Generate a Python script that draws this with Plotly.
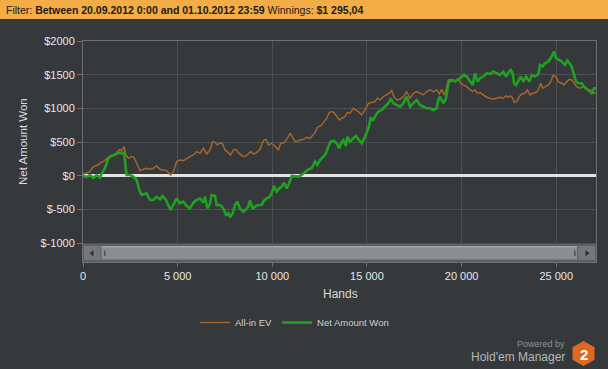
import plotly.graph_objects as go

# ---------------- data ----------------
ev_hands = [0, 190, 370, 460, 630, 810, 930, 1070, 1250, 1430, 1600, 1780, 1920, 2040, 2170, 2270, 2400,
            2570, 2690, 2835, 3010, 3190, 3360, 3540, 3720, 3890, 4070, 4240, 4420, 4630, 4770, 4950,
            5120, 5300, 5480, 5650, 5830, 6000, 6180, 6360, 6530, 6710, 6850, 6970, 7100, 7240, 7380,
            7500, 7680, 7800, 7940, 8080, 8210, 8330, 8470, 8610, 8730, 8860, 9000, 9175, 9350, 9530,
            9670, 9790, 9970, 10140, 10320, 10440, 10620, 10800, 10940, 11080, 11200, 11320, 11460,
            11640, 11820, 11990, 12130, 12260, 12380, 12560, 12700, 12840, 13010, 13140, 13260, 13400,
            13540, 13670, 13840, 13965, 14106, 14282, 14423, 14546, 14722, 14898, 15074, 15250, 15426,
            15550, 15690, 15867, 16043, 16184, 16307, 16430, 16571, 16747, 16923, 17099, 17275, 17451,
            17627, 17803, 17980, 18156, 18332, 18508, 18684, 18825, 18948, 19071, 19177, 19300, 19477,
            19653, 19829, 19952, 20093, 20269, 20445, 20586, 20709, 20833, 20974, 21150, 21326, 21502,
            21678, 21854, 22030, 22206, 22347, 22470, 22594, 22699, 22787, 22911, 23052, 23175, 23351,
            23474, 23615, 23756, 23932, 24055, 24178, 24284, 24407, 24583, 24707, 24847, 24989, 25112,
            25288, 25411, 25552, 25693, 25816, 25940, 26080, 26256, 26432, 26609, 26785, 26961, 27101]
ev_values = [20, 35, 60, 110, 144, 159, 194, 209, 258, 293, 308, 342, 382, 372, 431, 308, 258,
             283, 273, 184, 75, 95, 110, 95, 110, 144, 95, 85, 75, 10, 60, 209,
             233, 223, 258, 283, 308, 357, 332, 407, 322, 382, 506, 495, 456, 491, 471,
             382, 342, 308, 382, 392, 342, 308, 283, 293, 322, 357, 322, 342, 392, 521,
             540, 456, 481, 441, 382, 481, 491, 555, 630, 555, 506, 506, 530,
             540, 570, 555, 605, 639, 719, 739, 788, 838, 937, 951, 937, 877,
             828, 852, 877, 937, 927, 1001, 976, 951, 902, 976, 1075, 1085, 1100,
             1150, 1125, 1174, 1199, 1224, 1264, 1174, 1125, 1135, 1174, 1249, 1150, 1224,
             1249, 1224, 1199, 1249, 1273, 1249, 1273, 1214, 1283, 1199, 1273, 1422, 1412,
             1412, 1432, 1373, 1348, 1323, 1278, 1249, 1273, 1224, 1234, 1199, 1165, 1150,
             1135, 1150, 1165, 1150, 1184, 1165, 1184, 1150, 1085, 1100, 1174, 1214, 1224,
             1273, 1199, 1224, 1234, 1273, 1373, 1298, 1323, 1348, 1397, 1496, 1462, 1397,
             1373, 1348, 1397, 1432, 1422, 1373, 1323, 1298, 1323, 1283, 1273, 1224, 1234]

won_hands = [0, 190, 370, 550, 720, 900, 990, 1160, 1340, 1515, 1690, 1870, 2040, 2170, 2300, 2480,
             2660, 2835, 2975, 3100, 3360, 3540, 3720, 3890, 4070, 4210, 4380, 4510, 4630, 4770,
             4950, 5120, 5300, 5480, 5650, 5830, 6000, 6180, 6360, 6445, 6570, 6710, 6800, 6970,
             7060, 7240, 7410, 7555, 7680, 7770, 7910, 8030, 8150, 8290, 8470, 8610, 8730, 8820,
             8960, 9090, 9260, 9440, 9560, 9700, 9840, 9970, 10090, 10230, 10370, 10500, 10620,
             10760, 10900, 11020, 11200, 11380, 11550, 11730, 11900, 12080, 12260, 12380, 12520,
             12700, 12840, 12960, 13085, 13260, 13400, 13540, 13670, 13750, 13890, 13965, 14106,
             14282, 14423, 14546, 14722, 14898, 15074, 15197, 15338, 15479, 15602, 15779, 15955,
             16131, 16254, 16395, 16571, 16747, 16923, 17099, 17275, 17451, 17627, 17803, 17980,
             18156, 18332, 18508, 18684, 18772, 18860, 19036, 19177, 19300, 19477, 19653, 19829,
             20005, 20128, 20269, 20445, 20586, 20709, 20833, 20974, 21150, 21326, 21502, 21678,
             21854, 22030, 22206, 22347, 22470, 22594, 22699, 22770, 22875, 22999, 23122, 23263,
             23404, 23580, 23703, 23879, 24055, 24143, 24284, 24407, 24583, 24760, 24883, 24989,
             25112, 25288, 25464, 25587, 25693, 25816, 25940, 26045, 26168, 26344, 26468, 26609,
             26749, 26872, 26996, 27101]
won_values = [0, -20, 10, -35, 10, -30, 35, 110, 258, 293, 308, 342, 332, 342, 10, 10,
              -14, -64, -213, -287, -262, -361, -361, -312, -351, -302, -361, -435, -510, -435,
              -336, -410, -386, -450, -485, -401, -361, -336, -401, -312, -485, -410, -287, -300,
              -435, -435, -485, -584, -559, -619, -559, -435, -386, -485, -535, -500, -460, -371,
              -485, -460, -435, -435, -371, -336, -321, -262, -153, -237, -188, -163, -104,
              -188, -104, -5, -14, -14, 10, 60, 94, 110, 209, 159, 233,
              283, 332, 431, 506, 516, 481, 407, 506, 530, 441, 580, 506,
              555, 590, 540, 481, 580, 704, 852, 828, 902, 951, 976, 1026,
              1075, 1150, 1075, 1051, 1026, 1075, 1174, 1026, 1075, 1125, 1051, 1026,
              1001, 1001, 976, 1001, 1125, 1174, 1075, 1150, 1373, 1422, 1397, 1432,
              1472, 1496, 1472, 1397, 1348, 1521, 1397, 1447, 1472, 1521, 1511, 1546,
              1521, 1496, 1546, 1472, 1531, 1571, 1521, 1373, 1348, 1422, 1472, 1397,
              1472, 1397, 1496, 1472, 1511, 1645, 1620, 1670, 1695, 1769, 1843, 1744,
              1719, 1695, 1645, 1710, 1670, 1620, 1496, 1397, 1373, 1373, 1323, 1283,
              1249, 1224, 1298, 1295]

y_tickvals = [-1000, -500, 0, 500, 1000, 1500, 2000]
y_ticktext = ["$-1000", "$-500", "$0", "$500", "$1000", "$1500", "$2000"]
x_tickvals = [0, 5000, 10000, 15000, 20000, 25000]
x_ticktext = ["0", "5 000", "10 000", "15 000", "20 000", "25 000"]

# ---------------- layout geometry ----------------
W, H = 608, 369
L, R, T, B = 83, 596, 41, 262


def px(x):
    return (x - L) / (R - L)


def py(y):
    return (B - y) / (B - T)


BG = "#36393c"
FONT = "Liberation Sans, Arial, sans-serif"

fig = go.Figure()
fig.add_trace(go.Scatter(x=ev_hands, y=ev_values, mode="lines", name="All-in EV",
                         line=dict(color="#a5652b", width=1.5)))
fig.add_trace(go.Scatter(x=won_hands, y=won_values, mode="lines", name="Net Amount Won",
                         line=dict(color="#22a022", width=2.6)))

shapes = []
# header bar
shapes.append(dict(type="rect", xref="paper", yref="paper", x0=px(0), x1=px(W), y0=py(19), y1=py(0),
                   fillcolor="#f3ad47", line=dict(width=0), layer="above"))
# scrollbar track
shapes.append(dict(type="rect", xref="paper", yref="paper", x0=px(83), x1=px(596), y0=py(262), y1=py(244),
                   fillcolor="#5c6064", line=dict(width=0), layer="above"))
# left / right buttons
for x0, x1 in [(84, 100.5), (578, 595)]:
    shapes.append(dict(type="rect", xref="paper", yref="paper", x0=px(x0), x1=px(x1), y0=py(260), y1=py(246),
                       fillcolor="#74787b", line=dict(width=0), layer="above"))
# thumb
shapes.append(dict(type="rect", xref="paper", yref="paper", x0=px(101.5), x1=px(577), y0=py(259.5), y1=py(246),
                   fillcolor="#8b8f92", line=dict(width=0), layer="above"))
shapes.append(dict(type="line", xref="paper", yref="paper", x0=px(101.5), x1=px(577), y0=py(246.8), y1=py(246.8),
                   line=dict(color="#a3a6a8", width=1.5), layer="above"))
# grips
for x0 in [104, 574]:
    shapes.append(dict(type="rect", xref="paper", yref="paper", x0=px(x0), x1=px(x0 + 1.6), y0=py(256), y1=py(250.5),
                       fillcolor="#55585b", line=dict(width=0), layer="above"))


def tri(points):
    p = "M " + " L ".join(f"{px(a)},{py(b)}" for a, b in points) + " Z"
    return p


shapes.append(dict(type="path", xref="paper", yref="paper", path=tri([(89.5, 253.3), (93.5, 250.3), (93.5, 256.3)]),
                   fillcolor="#2b2d2f", line=dict(width=0), layer="above"))
shapes.append(dict(type="path", xref="paper", yref="paper", path=tri([(589.5, 253.3), (585.5, 250.3), (585.5, 256.3)]),
                   fillcolor="#2b2d2f", line=dict(width=0), layer="above"))
# logo hexagon
cx, cy = 583.5, 353.5
hexpts = [(cx, cy - 12.5), (cx + 11, cy - 6.3), (cx + 11, cy + 6.3), (cx, cy + 12.5), (cx - 11, cy + 6.3), (cx - 11, cy - 6.3)]
shapes.append(dict(type="path", xref="paper", yref="paper", path=tri(hexpts),
                   fillcolor="#de6a22", line=dict(width=0), layer="above"))

annotations = [
    dict(xref="paper", yref="paper", x=px(4), y=py(9.5), xanchor="left", yanchor="middle", showarrow=False,
         text="Filter: <b>Between 20.09.2012 0:00 and 01.10.2012 23:59</b> Winnings: <b>$1 295,04</b>",
         font=dict(family=FONT, size=10.5, color="#1a1a1a")),
    dict(xref="paper", yref="paper", x=px(23), y=py(142), xanchor="center", yanchor="middle", showarrow=False,
         text="Net Amount Won", textangle=-90, font=dict(family=FONT, size=11.5, color="#d8d8d8")),
    dict(xref="paper", yref="paper", x=px(340), y=py(294), xanchor="center", yanchor="middle", showarrow=False,
         text="Hands", font=dict(family=FONT, size=12, color="#d8d8d8")),
    dict(xref="paper", yref="paper", x=px(567), y=py(344), xanchor="right", yanchor="middle", showarrow=False,
         text="Powered by", font=dict(family=FONT, size=9, color="#8e9194")),
    dict(xref="paper", yref="paper", x=px(567), y=py(357), xanchor="right", yanchor="middle", showarrow=False,
         text="Hold'em Manager", font=dict(family=FONT, size=12, color="#b4b6b8")),
    dict(xref="paper", yref="paper", x=px(583.5), y=py(354), xanchor="center", yanchor="middle", showarrow=False,
         text="<b>2</b>", font=dict(family=FONT, size=15, color="#ffffff")),
]

fig.update_layout(
    width=W, height=H,
    margin=dict(l=L, r=W - R, t=T, b=H - B, pad=0),
    paper_bgcolor=BG, plot_bgcolor=BG,
    font=dict(family=FONT, color="#e0e0e0", size=11),
    showlegend=True,
    legend=dict(orientation="h", x=px(195), y=py(308), xanchor="left", yanchor="top",
                bgcolor="rgba(0,0,0,0)", font=dict(family=FONT, size=9.5, color="#d0d0d0"),
                itemwidth=30, tracegroupgap=0),
    shapes=shapes,
    annotations=annotations,
    xaxis=dict(range=[0, 27100], tickvals=x_tickvals, ticktext=x_ticktext,
               showgrid=True, gridcolor="#4c5054", gridwidth=1, zeroline=False,
               showline=True, linecolor="#6c7074", linewidth=1, mirror=True,
               ticks="outside", ticklen=4, tickcolor="#6c7074",
               tickfont=dict(family=FONT, size=11, color="#e6e6e6")),
    yaxis=dict(range=[-1282, 2000], tickvals=y_tickvals, ticktext=y_ticktext,
               showgrid=True, gridcolor="#4c5054", gridwidth=1,
               zeroline=True, zerolinecolor="#e4e4e4", zerolinewidth=3,
               showline=True, linecolor="#6c7074", linewidth=1, mirror=True,
               ticks="outside", ticklen=5, tickcolor="#6c7074",
               tickfont=dict(family=FONT, size=11, color="#e6e6e6")),
)

fig.write_html("out.html",
               config={"displayModeBar": False},
               post_script="document.body.style.margin='0';document.body.style.padding='0';"
                           "document.body.style.overflow='hidden';document.body.style.background='" + BG + "';")
